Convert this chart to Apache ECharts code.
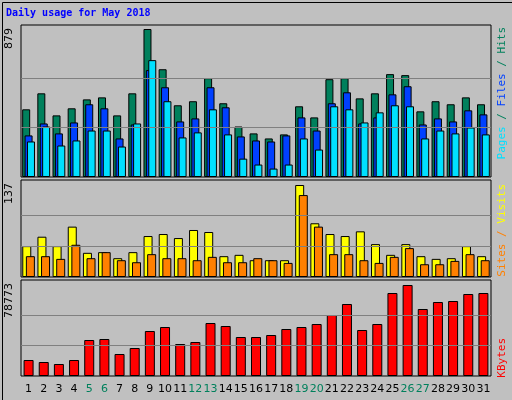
<!DOCTYPE html>
<html><head><meta charset="utf-8">
<script src="https://cdn.jsdelivr.net/npm/echarts@6/dist/echarts.min.js"></script>
<style>html,body{margin:0;padding:0;background:#c0c0c0}#c{width:512px;height:400px}</style>
</head><body><div id="c"></div>
<script>
const days = ['1','2','3','4','5','6','7','8','9','10','11','12','13','14','15','16','17','18','19','20','21','22','23','24','25','26','27','28','29','30','31'];
const weekend = ['5','6','12','13','19','20','26','27'];
const hits = [402,497,366,408,461,473,366,497,879,640,426,450,587,438,300,259,229,253,420,354,581,587,467,497,611,605,390,450,432,473,432];
const files = [247,318,259,324,432,408,229,312,635,533,330,348,533,414,241,217,211,247,354,276,438,503,318,354,491,539,312,348,330,396,372];
const pages = [211,300,187,217,276,276,181,318,694,450,235,265,402,253,109,74,50,74,229,163,420,402,324,384,426,420,229,276,259,294,253];
const visits = [46,60,46,75,36,37,28,37,61,64,58,70,67,31,33,25,25,25,137,80,64,61,68,49,33,49,31,27,28,46,31];
const sites = [31,31,27,48,28,37,25,22,34,28,28,25,30,22,22,28,25,21,122,75,34,34,25,21,30,43,19,19,24,34,25];
const kbytes = [13848,12117,10386,13848,31158,32024,19041,24234,38948,42410,27696,29427,45872,43275,33755,33755,35486,40679,42410,45006,52796,62316,39813,45006,71837,78773,57989,64047,64913,70971,71837];
const maxHits = 879, maxVisits = 137, maxKB = 78773;

const chart = echarts.init(document.getElementById('c'));
const grids = [
  {left:21, top:25, width:470, height:152},
  {left:21, top:180, width:470, height:97},
  {left:21, top:280, width:470, height:96}
];
function xa(i, show){
  return {type:'category', data:days, gridIndex:i,
    axisLine:{show:false}, axisTick:{show:false},
    axisLabel:{show:show, interval:0, margin:8, fontFamily:'DejaVu Sans', fontSize:11,
      formatter:(v)=> weekend.includes(v) ? '{w|'+v+'}' : '{n|'+v+'}',
      rich:{w:{color:'#00805c',fontSize:11,fontFamily:'DejaVu Sans'}, n:{color:'#000',fontSize:11,fontFamily:'DejaVu Sans'}}},
    splitLine:{show:false}};
}
function ya(i, max){
  return {type:'value', gridIndex:i, min:0, max:max, axisLabel:{show:false}, axisLine:{show:false}, axisTick:{show:false}, splitLine:{show:false}};
}
const mlStyle = {color:'#808080', type:'solid', width:1};
function ml(vals){ return {silent:true, symbol:'none', label:{show:false}, lineStyle:mlStyle, data:vals.map(v=>({yAxis:v}))}; }
const bs = (c)=>({color:c, borderColor:'#000', borderWidth:1, borderRadius:0, shadowBlur:0, opacity:1});
chart.setOption({
  animation:false,
  backgroundColor:'#c0c0c0',
  grid: grids.map(g=>Object.assign({show:true, backgroundColor:'#c0c0c0', borderColor:'#000', borderWidth:1}, g)),
  xAxis:[xa(0,false), xa(1,false), xa(2,true)],
  yAxis:[ya(0, maxHits*152/148), ya(1, maxVisits*97/92), ya(2, maxKB*96/91)],
  series:[
    {type:'bar', name:'Hits', data:hits, xAxisIndex:0, yAxisIndex:0, barWidth:8, barGap:'-70%', itemStyle:bs('#00805c'), markLine:ml([293,586])},
    {type:'bar', name:'Files', data:files, xAxisIndex:0, yAxisIndex:0, barWidth:8, barGap:'-70%', itemStyle:bs('#0040ff')},
    {type:'bar', name:'Pages', data:pages, xAxisIndex:0, yAxisIndex:0, barWidth:8, barGap:'-70%', itemStyle:bs('#00e0ff')},
    {type:'bar', name:'Visits', data:visits, xAxisIndex:1, yAxisIndex:1, barWidth:9, barGap:'-60%', itemStyle:bs('#ffff00'), markLine:ml([maxVisits/3, maxVisits*2/3])},
    {type:'bar', name:'Sites', data:sites, xAxisIndex:1, yAxisIndex:1, barWidth:9, barGap:'-60%', itemStyle:bs('#ff8000')},
    {type:'bar', name:'KBytes', data:kbytes, xAxisIndex:2, yAxisIndex:2, barWidth:10, itemStyle:bs('#ff0000'), markLine:ml([maxKB/3, maxKB*2/3])}
  ],
  graphic:[
    {type:'rect', left:0, top:0, shape:{width:511, height:399}, style:{fill:'none', stroke:'#000', lineWidth:1}, z:-1},
    {type:'text', left:6, top:8, style:{text:'Daily usage for May 2018', fill:'#0000ff', font:'bold 10px "DejaVu Sans Mono"'}},
    {type:'text', x:9, y:28, rotation:Math.PI/2, style:{text:String(maxHits), fill:'#000', font:'11px "DejaVu Sans"', align:'right', verticalAlign:'middle'}},
    {type:'text', x:9, y:183, rotation:Math.PI/2, style:{text:String(maxVisits), fill:'#000', font:'11px "DejaVu Sans"', align:'right', verticalAlign:'middle'}},
    {type:'text', x:9, y:283, rotation:Math.PI/2, style:{text:String(maxKB), fill:'#000', font:'11px "DejaVu Sans"', align:'right', verticalAlign:'middle'}},
    {type:'text', x:502, y:27, rotation:Math.PI/2, style:{text:'{p|Pages} / {f|Files} / {h|Hits}', align:'right', verticalAlign:'middle', font:'11px "DejaVu Sans Mono"', fill:'#00805c',
      rich:{p:{fill:'#00e0ff',font:'11px "DejaVu Sans Mono"'}, f:{fill:'#0040ff',font:'11px "DejaVu Sans Mono"'}, h:{fill:'#00805c',font:'11px "DejaVu Sans Mono"'}}}},
    {type:'text', x:502, y:184, rotation:Math.PI/2, style:{text:'{s|Sites} / {v|Visits}', align:'right', verticalAlign:'middle', font:'11px "DejaVu Sans Mono"', fill:'#ff8000',
      rich:{s:{fill:'#ff8000',font:'11px "DejaVu Sans Mono"'}, v:{fill:'#ffff00',font:'11px "DejaVu Sans Mono"'}}}},
    {type:'text', x:502, y:338, rotation:Math.PI/2, style:{text:'KBytes', align:'right', verticalAlign:'middle', font:'11px "DejaVu Sans Mono"', fill:'#ff0000'}}
  ]
});
</script></body></html>
